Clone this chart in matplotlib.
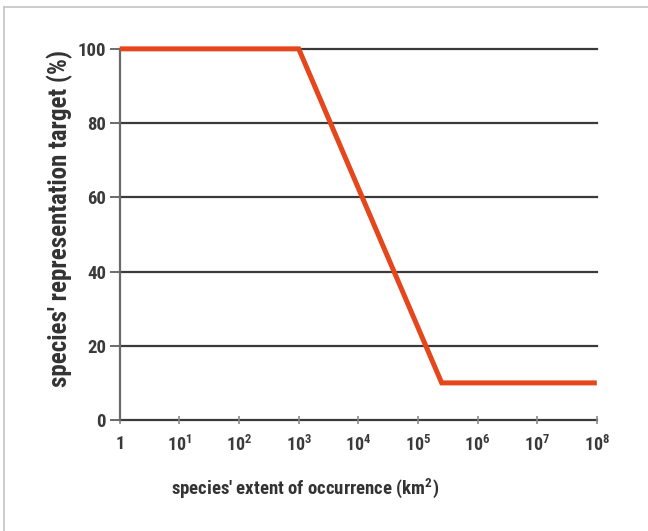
import numpy as np
import matplotlib.pyplot as plt
from matplotlib.lines import Line2D
from matplotlib import font_manager

# extent of occurrence (km^2) at the curve's break points, and the target (%)
extent = [1, 1e3, 2.5e5, 1e8]
target = [100, 100, 10, 10]

x_ticks = [10 ** k for k in range(9)]
x_labels = ['1'] + ['10$^{\\mathbf{%d}}$' % k for k in range(1, 9)]
y_ticks = [0, 20, 40, 60, 80, 100]

names = {f.name for f in font_manager.fontManager.ttflist}
family = 'Roboto Condensed' if 'Roboto Condensed' in names else 'DejaVu Sans'
plt.rcParams['font.family'] = [family, 'DejaVu Sans']
plt.rcParams['mathtext.fontset'] = 'custom'
plt.rcParams['mathtext.bf'] = family + ':bold'
plt.rcParams['mathtext.rm'] = family

fig = plt.figure(figsize=(6.48, 5.31), dpi=100)
ax = fig.add_axes([0.185, 0.209, 0.736, 0.699])

for y in y_ticks:
    ax.axhline(y, color='#3a3a3a', lw=1.6, zorder=1, clip_on=False)
ax.plot(extent, target, color='#e5461b', lw=3.6, solid_capstyle='butt',
        solid_joinstyle='miter', zorder=3, clip_on=False)

ax.set_xscale('log')
ax.set_xlim(1, 1e8)
ax.set_ylim(0, 100)
ax.set_xticks(x_ticks)
ax.set_xticklabels(x_labels)
ax.minorticks_off()
ax.set_yticks(y_ticks)

for side in ['top', 'right', 'bottom']:
    ax.spines[side].set_visible(False)
ax.spines['left'].set_color('#6a6a6a')
ax.spines['left'].set_linewidth(1.6)

ax.tick_params(axis='x', direction='inout', length=6, width=1.2, color='#8a8a8a',
               pad=8, labelsize=13, labelcolor='#3a3a3a')
ax.tick_params(axis='y', direction='out', length=7, width=1.4, color='#6a6a6a',
               pad=3, labelsize=13.5, labelcolor='#3a3a3a')
for lab in ax.get_xticklabels() + ax.get_yticklabels():
    lab.set_fontweight('bold')

ax.set_xlabel("species' extent of occurrence (km$^\\mathbf{2}$)", fontsize=13.5,
              fontweight='bold', color='#333333')
ax.xaxis.set_label_coords(0.388, -0.186)
ax.xaxis.label.set_va('center')

ax.set_ylabel("species' representation target (%)", fontsize=18,
              fontweight='bold', color='#333333')
ax.yaxis.set_label_coords(-0.126, 0.544)
ax.yaxis.label.set_va('center')

# thin page frame along the top and left edges
fig.add_artist(Line2D([4 / 648, 1], [1 - 7 / 531, 1 - 7 / 531],
                      transform=fig.transFigure, color='#c4c4c4', lw=1.2))
fig.add_artist(Line2D([4 / 648, 4 / 648], [0, 1 - 7 / 531],
                      transform=fig.transFigure, color='#c4c4c4', lw=1.2))

fig.savefig('out.png', dpi=100)
